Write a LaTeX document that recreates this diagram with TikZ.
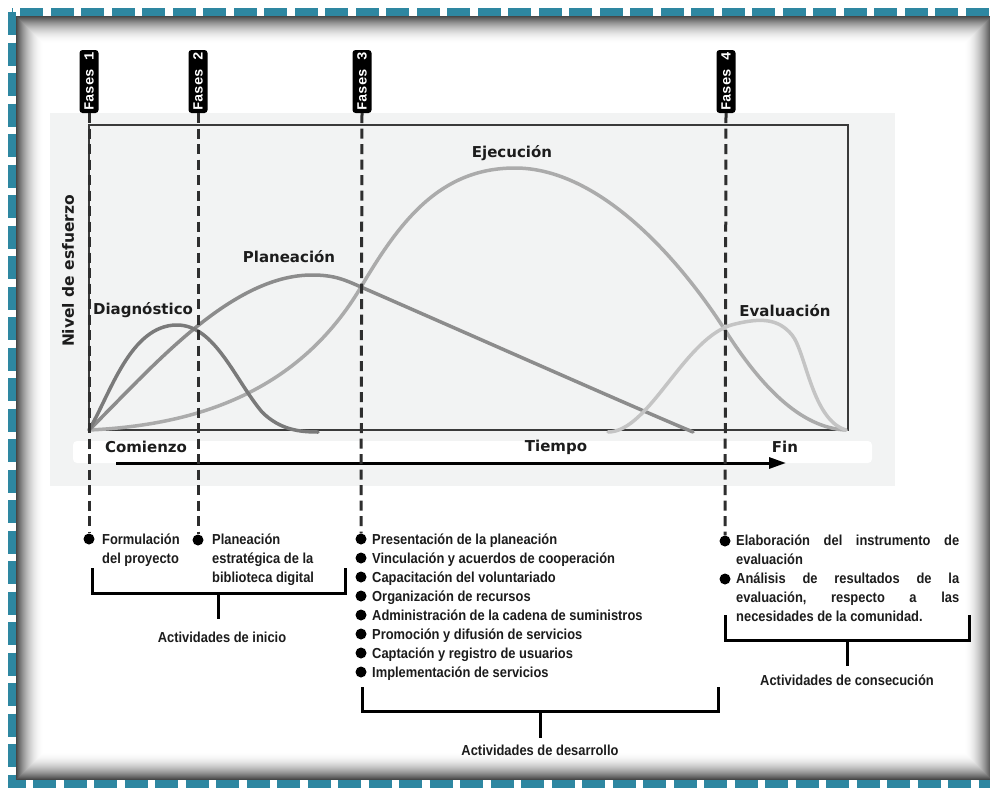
\documentclass[tikz,border=0pt]{standalone}
\usepackage{fontspec}
\usetikzlibrary{arrows.meta}
\newfontfamily\chartfont{DejaVu Sans}
\newfontfamily\listfont[FakeStretch=0.89]{Liberation Sans}
\newfontfamily\tagfont{Liberation Mono}
\definecolor{frameteal}{HTML}{2E87A1}
\definecolor{chartbg}{HTML}{F2F3F3}
\definecolor{boxgray}{HTML}{3A3A3A}
\definecolor{linegray}{HTML}{2E2E2E}
\definecolor{textdark}{HTML}{1C1C1C}
\definecolor{diagc}{HTML}{7A7A7A}
\definecolor{planc}{HTML}{8C8C8C}
\definecolor{ejecc}{HTML}{ABABAB}
\definecolor{evalc}{HTML}{C4C4C4}
\tikzset{
  phasetag/.style={fill=black, text=white, rounded corners=3, minimum width=63, minimum height=19,
    inner sep=0, font=\tagfont\bfseries\fontsize{14}{14}\selectfont, rotate=90},
  phaseline/.style={line width=3, draw=linegray, dash pattern=on 10 off 5.5},
  dot/.style={circle, fill=black, inner sep=0, minimum size=11},
  item/.style={anchor=north west, inner sep=0, align=left, text=textdark,
    font=\listfont\bfseries\fontsize{14.5}{19}\selectfont},
  bracket/.style={line width=3, draw=black, line join=miter},
  grouplabel/.style={inner sep=0, text=textdark, font=\listfont\bfseries\fontsize{14.5}{17}\selectfont},
  chartlabel/.style={inner sep=0, text=textdark, font=\chartfont\bfseries\fontsize{15}{18}\selectfont},
  effort/.style={line width=3.5, line cap=round, line join=round},
}
\begin{document}
\begin{tikzpicture}[x=1pt, y=-1pt]
\useasboundingbox (0,0) rectangle (990,787);
\begin{scope}
\clip (0,0) rectangle (990,787);
% page and dashed teal frame
\fill[white] (0,0) rectangle (990,787);
\draw[frameteal, line width=8, dash pattern=on 23 off 7.5] (12,12) rectangle (994,784);
% inner panel with soft inner shadow
\fill[white] (16,16) rectangle (992,780);
\foreach \i in {0,...,27} {
  \pgfmathsetmacro{\op}{0.72*(1-\i/28)^2}
  \draw[black, draw opacity=\op, line width=1.02] ({16.5+\i},{16.5+\i}) rectangle ({991.5-\i},{779.5-\i});
}
\end{scope}

% chart background, axis strip and frame
\fill[chartbg] (50,113) rectangle (895,486);
\fill[white, rounded corners=4] (73,441) rectangle (872,463);
\draw[boxgray, line width=2] (89,125) rectangle (848,430);

% effort curves
\draw[effort, ejecc] (89,430) .. controls (200,425) and (300,390) .. (361,287)
  .. controls (400,221) and (440,168) .. (515,168)
  .. controls (600,168) and (680,260) .. (725,330)
  .. controls (760,385) and (800,428) .. (846,430);
\draw[effort, planc] (89,430) .. controls (150,370) and (230,275) .. (312,275)
  .. controls (335,275) and (345,280) .. (361,287)
  .. controls (480,339) and (640,410) .. (693,432);
\draw[effort, diagc] (89,430) .. controls (110,395) and (130,325) .. (177,325)
  .. controls (215,325) and (235,380) .. (262,412)
  .. controls (280,430) and (300,432) .. (318,432);
\draw[effort, evalc] (608,432) .. controls (650,432) and (685,335) .. (735,324)
  .. controls (760,318) and (778,318) .. (792,335)
  .. controls (806,352) and (812,420) .. (846,430);

% chart labels
\node[chartlabel] (diag) at (143,310) {Diagnóstico};
\node[chartlabel] (plan) at (289,257) {Planeación};
\node[chartlabel] (ejec) at (512,153) {Ejecución};
\node[chartlabel] (eval) at (785,311) {Evaluación};
\node[chartlabel, font=\chartfont\bfseries\fontsize{15.5}{18}\selectfont, rotate=90] (effortlab) at (68,271) {Nivel de esfuerzo};
\node[chartlabel] (start) at (146,447) {Comienzo};
\node[chartlabel] (time) at (556,447) {Tiempo};
\node[chartlabel] (end) at (785,447) {Fin};

% time axis
\coordinate (axfrom) at (116,463);
\coordinate (axto) at (786,463);
\draw[line width=3, -{Triangle[length=17,width=11]}] (axfrom) -- (axto);

% phase markers
\node[phasetag] (f1) at (89,81.5) {Fases 1};
\node[phasetag] (f2) at (198,81.5) {Fases 2};
\node[phasetag] (f3) at (362,81.5) {Fases 3};
\node[phasetag] (f4) at (726,81.5) {Fases 4};
\node[dot] (b1) at (89,539) {};
\node[dot] (b2) at (198,540) {};
\node[dot] (b3) at (361,539) {};
\node[dot] (b4) at (725,541) {};
\draw[phaseline] (f1.west) -- (b1);
\draw[phaseline] (f2.west) -- (b2);
\draw[phaseline] (f3.west) -- (b3);
\draw[phaseline] (f4.west) -- (b4);

% phase 1 and 2 activities
\node[item] (t1) at (102,530.7) {\strut Formulación\\del proyecto};
\node[item] (t2) at (212,530.7) {\strut Planeación\\estratégica de la\\biblioteca digital};
\coordinate (i1) at (92,568);
\coordinate (i2) at (345,568);
\coordinate (istem) at (218,593);
\coordinate (iend) at (218,619);
\draw[bracket] (i1) |- (i2 |- istem) -- (i2);
\draw[bracket] (istem) -- (iend);
\node[grouplabel] (glab1) at (222,637) {Actividades de inicio};

% phase 3 activities
\foreach \k/\txt in {1/Presentación de la planeación,
                     2/Vinculación y acuerdos de cooperación,
                     3/Capacitación del voluntariado,
                     4/Organización de recursos,
                     5/Administración de la cadena de suministros,
                     6/Promoción y difusión de servicios,
                     7/Captación y registro de usuarios,
                     8/Implementación de servicios} {
  \node[item] (d\k) at (372,{511.7+19*\k}) {\strut\txt};
}
\foreach \k in {2,...,8} {
  \node[dot] (db\k) at (361,{520+19*\k}) {};
}
\coordinate (d1l) at (362,687);
\coordinate (d1r) at (718,687);
\coordinate (dstem) at (540,711);
\coordinate (dend) at (540,738);
\draw[bracket] (d1l) |- (d1r |- dstem) -- (d1r);
\draw[bracket] (dstem) -- (dend);
\node[grouplabel] (glab3) at (540,750) {Actividades de desarrollo};

% phase 4 activities
\node[item] (e1) at (736,531.7) {\strut\hbox to 223pt{Elaboración\hfill del\hfill instrumento\hfill de}\\evaluación};
\node[dot] (eb2) at (725,579) {};
\node[item] (e2) at (736,569.7) {\strut\hbox to 223pt{Análisis\hfill de\hfill resultados\hfill de\hfill la}\\\hbox to 223pt{evaluación,\hfill respecto\hfill a\hfill las}\\necesidades de la comunidad.};
\coordinate (c1l) at (725,615);
\coordinate (c1r) at (969,615);
\coordinate (cstem) at (847,640);
\coordinate (cend) at (847,666);
\draw[bracket] (c1l) |- (c1r |- cstem) -- (c1r);
\draw[bracket] (cstem) -- (cend);
\node[grouplabel] (glab4) at (847,680) {Actividades de consecución};
\end{tikzpicture}
\end{document}
